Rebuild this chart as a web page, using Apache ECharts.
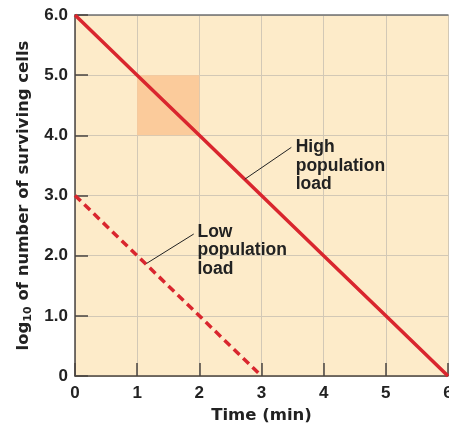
<!DOCTYPE html>
<html>
<head>
<meta charset="utf-8">
<script src="https://cdn.jsdelivr.net/npm/echarts@6/dist/echarts.min.js"></script>
<style>
  html, body { margin: 0; padding: 0; background: #fff; }
  #chart { width: 449px; height: 425px; }
</style>
</head>
<body>
<div id="chart"></div>
<script>
// survival curves: [time (min), log10 surviving cells]
const highLoad = [[0, 6], [1, 5], [2, 4], [3, 3], [4, 2], [5, 1], [6, 0]];
const lowLoad = [[0, 3], [1, 2], [2, 1], [3, 0]];
const yTicks = [0, 1, 2, 3, 4, 5, 6];
const xTicks = [0, 1, 2, 3, 4, 5, 6];

// shaded square: one log drop in one minute
const shadedFrom = [1, 5];
const shadedTo = [2, 4];

// callouts: pointer on the line, end of the leader, text anchor
const highPointer = [2.73, 3.27];
const highLeaderEnd = [3.48, 3.8];
const highTextAt = [3.55, 3.96];
const lowPointer = [1.15, 1.87];
const lowLeaderEnd = [1.91, 2.36];
const lowTextAt = [1.97, 2.55];

const RED = "#D9262E";
const LABEL_FONT = "'Liberation Sans', Arial, sans-serif";
const NAME_FONT = "'DejaVu Sans', sans-serif";

let chart = echarts.init(document.getElementById("chart"), null, { renderer: "canvas" });

let option = {
  animation: false,
  grid: {
    left: 75,
    right: 1,
    top: 15,
    bottom: 49,
    outerBoundsMode: "none",
    containLabel: false,
    show: true,
    backgroundColor: "#FDEBC9",
    borderWidth: 0,
  },
  xAxis: [
    {
      type: "value",
      min: 0,
      max: 6,
      interval: 1,
      name: "Time (min)",
      nameLocation: "middle",
      nameGap: 30,
      nameTextStyle: { fontFamily: NAME_FONT, fontWeight: "bold", fontSize: 16.5, color: "#222" },
      axisLine: { lineStyle: { color: "#4a4440", width: 1.5 } },
      axisTick: { inside: true, length: 13, lineStyle: { color: "#4a4440", width: 1.5 } },
      axisLabel: {
        margin: 9,
        fontFamily: LABEL_FONT,
        fontWeight: "bold",
        fontSize: 17,
        color: "#222",
        formatter: (v) => (xTicks.includes(v) ? `${v}` : ""),
      },
      splitLine: { show: true, lineStyle: { color: "#D2C8B6", width: 1 } },
    },
    {
      type: "value",
      position: "top",
      min: 0,
      max: 6,
      axisLine: { show: true, lineStyle: { color: "#707070", width: 1.5 } },
      axisTick: { show: false },
      axisLabel: { show: false },
      splitLine: { show: false },
    },
  ],
  yAxis: {
    type: "value",
    min: 0,
    max: 6,
    interval: 1,
    name: "log{sub|10} of number of surviving cells",
    nameLocation: "middle",
    nameGap: 40,
    nameTextStyle: {
      fontFamily: NAME_FONT,
      fontWeight: "bold",
      fontSize: 16.5,
      color: "#222",
      rich: {
        sub: { fontFamily: NAME_FONT, fontWeight: "bold", fontSize: 11, color: "#222", padding: [8, 0, 0, 0] },
      },
    },
    axisLine: { show: true, lineStyle: { color: "#4a4440", width: 1.5 } },
    axisTick: { inside: true, length: 13, lineStyle: { color: "#4a4440", width: 1.5 } },
    axisLabel: {
      margin: 7,
      fontFamily: LABEL_FONT,
      fontWeight: "bold",
      fontSize: 17,
      color: "#222",
      formatter: (v) => (yTicks.includes(v) ? (v === 0 ? "0" : v.toFixed(1)) : ""),
    },
    splitLine: { show: true, lineStyle: { color: "#D2C8B6", width: 1 } },
  },
  series: [
    {
      name: "High population load",
      type: "line",
      data: highLoad,
      symbol: "none",
      z: 3,
      lineStyle: { color: RED, width: 3.5 },
      markArea: {
        silent: true,
        itemStyle: { color: "#FBCB9B" },
        data: [[{ coord: shadedFrom }, { coord: shadedTo }]],
      },
      markLine: {
        silent: true,
        symbol: "none",
        label: { show: false },
        lineStyle: { color: "#222", width: 1, type: "solid" },
        data: [
          [{ coord: highPointer }, { coord: highLeaderEnd }],
          [{ coord: lowPointer }, { coord: lowLeaderEnd }],
        ],
      },
    },
    {
      name: "Low population load",
      type: "line",
      data: lowLoad,
      symbol: "none",
      z: 3,
      lineStyle: { color: RED, width: 3.5, type: [8, 5] },
    },
  ],
};

chart.setOption(option);

// callout texts, placed from data coordinates
function callout(at, lines) {
  let p = chart.convertToPixel({ gridIndex: 0 }, at);
  return {
    type: "text",
    x: p[0],
    y: p[1],
    style: {
      text: lines.join("\n"),
      fontFamily: LABEL_FONT,
      fontWeight: "bold",
      fontSize: 17.5,
      lineHeight: 18.7,
      fill: "#222",
      align: "left",
      verticalAlign: "top",
    },
    z: 10,
  };
}

chart.setOption({
  graphic: [
    callout(highTextAt, ["High", "population", "load"]),
    callout(lowTextAt, ["Low", "population", "load"]),
  ],
});
</script>
</body>
</html>
